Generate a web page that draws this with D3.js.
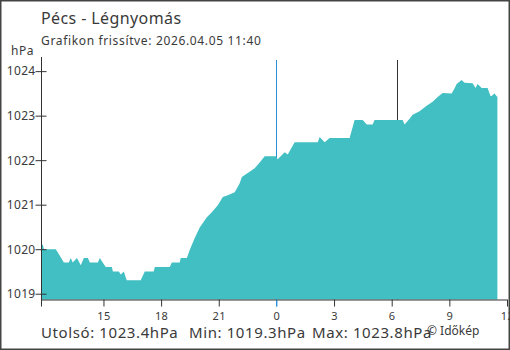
<!DOCTYPE html>
<html><head><meta charset="utf-8">
<script src="https://cdn.jsdelivr.net/npm/d3@7"></script>
<style>
html,body{margin:0;padding:0;background:#fff;}
text{font-family:"Noto Sans",sans-serif;fill:#3a3a3a;}
</style></head>
<body><svg id="c" width="510" height="350"></svg>
<script>
// hours relative to midnight 2026-04-05 (negative = previous day)
const hours = [-12.25,-12.15,-12.1,-11.48,-11.27,-11.06,-10.8,-10.7,-10.6,-10.38,-10.18,-10.02,-9.81,-9.71,-9.29,-9.19,-8.98,-8.88,-8.56,-8.51,-8.2,-8.1,-7.94,-7.79,-7.06,-6.85,-6.38,-6.33,-5.55,-5.44,-5.03,-4.98,-4.66,-4.51,-4.25,-3.99,-3.62,-3.36,-3.05,-2.79,-2.53,-2.17,-1.91,-1.8,-1.49,-1.13,-0.87,-0.61,-0.04,0.07,0.43,0.59,0.95,2.15,2.25,2.51,2.77,3.81,4.07,4.49,4.7,5.01,5.11,6.57,6.67,6.93,7.09,7.45,7.82,8.13,8.39,8.65,9.12,9.28,9.38,9.64,9.79,10.21,10.36,10.47,10.68,10.99,11.14,11.2,11.35,11.5];
const pressure = [1020.1,1020.1,1020.0,1020.0,1019.85,1019.7,1019.7,1019.8,1019.7,1019.8,1019.64,1019.8,1019.8,1019.7,1019.7,1019.8,1019.66,1019.6,1019.6,1019.5,1019.5,1019.43,1019.5,1019.3,1019.3,1019.5,1019.5,1019.6,1019.6,1019.7,1019.7,1019.8,1019.8,1019.98,1020.25,1020.49,1020.72,1020.83,1020.99,1021.17,1021.21,1021.28,1021.48,1021.62,1021.71,1021.82,1021.95,1022.09,1022.09,1022.02,1022.18,1022.13,1022.4,1022.4,1022.52,1022.4,1022.5,1022.5,1022.9,1022.9,1022.8,1022.8,1022.9,1022.9,1022.8,1022.93,1023.02,1023.1,1023.22,1023.31,1023.42,1023.51,1023.5,1023.62,1023.71,1023.8,1023.74,1023.73,1023.62,1023.71,1023.62,1023.62,1023.44,1023.44,1023.5,1023.42];
const yTicks = [1019,1020,1021,1022,1023,1024];
const xTickHours = [-9,-6,-3,0,3,6,9,12];
const markerHours = [0, 6.25];
const title = "Pécs - Légnyomás";
const subtitle = "Grafikon frissítve: 2026.04.05 11:40";
const unit = "hPa";
const stats = ["Utolsó: 1023.4hPa","Min: 1019.3hPa","Max: 1023.8hPa"];
const credit = "© Időkép";

const base = new Date(2026,3,5,0,0,0);
const toDate = h => new Date(base.getTime() + h*3600e3);
const data = hours.map((h,i)=>({t:toDate(h), v:pressure[i]}));

const svg = d3.select("#c");
const L=41, R=507, T=60, B=299.5;
const x = d3.scaleTime().domain([toDate(-12.25), toDate(12)]).range([L,R]);
const y = d3.scaleLinear().domain([1018.87,1024.25]).range([B,T]);

// frame
svg.append("rect").attr("x",0.5).attr("y",0.5).attr("width",509).attr("height",349)
  .attr("fill","none").attr("stroke","#444").attr("stroke-width",2);

// marker lines (behind area)
svg.append("line").attr("x1",Math.round(x(toDate(markerHours[0])))+0.5).attr("x2",Math.round(x(toDate(markerHours[0])))+0.5)
  .attr("y1",T).attr("y2",B+7).attr("stroke","#2b8fd8").attr("stroke-width",1);
svg.append("line").attr("x1",Math.round(x(toDate(markerHours[1])))+0.5).attr("x2",Math.round(x(toDate(markerHours[1])))+0.5)
  .attr("y1",T).attr("y2",B).attr("stroke","#333").attr("stroke-width",1);

// area
const area = d3.area().x(d=>x(d.t)).y0(B).y1(d=>y(d.v)).curve(d3.curveLinear);
svg.append("path").datum(data).attr("d",area).attr("fill","#41bfc2");

// y axis
const ya = svg.append("g").attr("transform",`translate(${L+0.5},0)`)
  .call(d3.axisLeft(y).tickValues(yTicks).tickSize(6).tickSizeInner(0).tickFormat(d3.format("d")));
ya.select(".domain").remove();
ya.selectAll(".tick line").remove();
ya.selectAll(".tick").append("line").attr("x1",-6).attr("x2",5).attr("stroke","#333");
ya.selectAll(".tick text").attr("x",-6).attr("font-size",12).attr("fill","#3a3a3a").style("font-family","Noto Sans").attr("letter-spacing",0.3);
svg.append("line").attr("x1",L+0.5).attr("x2",L+0.5).attr("y1",T-3).attr("y2",B+7).attr("stroke","#333");

// x axis
const xa = svg.append("g").attr("transform",`translate(0,${B})`)
  .call(d3.axisBottom(x).tickValues(xTickHours.map(toDate)).tickSize(7).tickFormat(d3.timeFormat("%-H")));
xa.select(".domain").attr("d",`M${L},0.5H${R}`).attr("stroke","#333");
xa.selectAll(".tick line").attr("stroke",d=>d.getTime()===base.getTime()?"#2b8fd8":"#333");
xa.selectAll(".tick text").attr("y",13).attr("font-size",11).attr("fill","#3a3a3a").style("font-family","Noto Sans").attr("letter-spacing",0.4);

// texts
svg.append("text").attr("x",41).attr("y",24).attr("font-size",16).attr("letter-spacing",0.4).text(title);
svg.append("text").attr("x",41).attr("y",45).attr("font-size",12).attr("letter-spacing",0.65).text(subtitle);
svg.append("text").attr("x",11).attr("y",55).attr("font-size",12).attr("letter-spacing",0.5).text(unit);
const sx=[41,189,312];
stats.forEach((s,i)=>svg.append("text").attr("x",sx[i]).attr("y",338).attr("font-size",15).attr("letter-spacing",0.6).text(s));
svg.append("text").attr("x",427).attr("y",335).attr("font-size",12).text(credit);
</script></body></html>
